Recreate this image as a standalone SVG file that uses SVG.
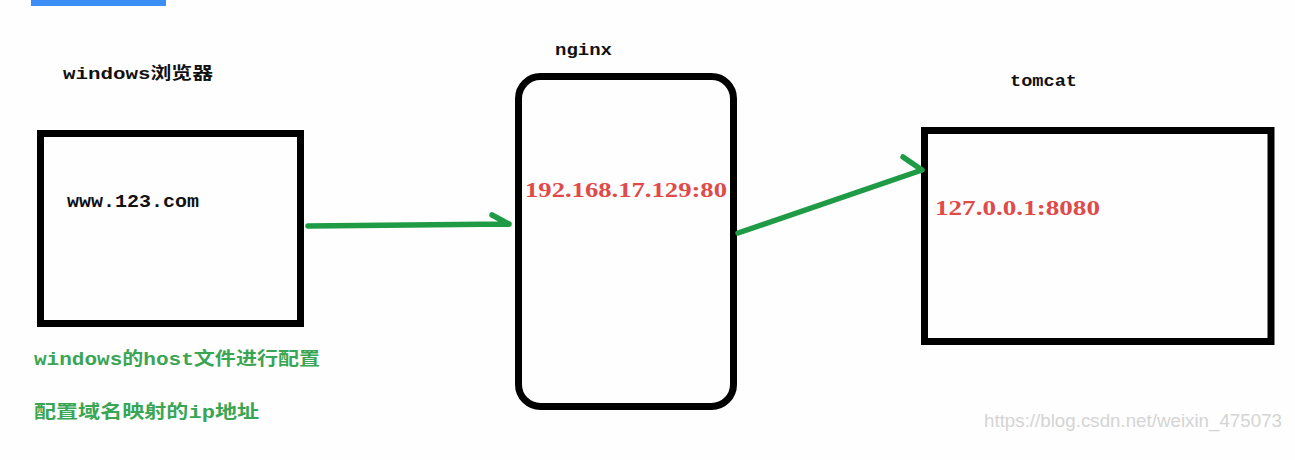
<svg xmlns="http://www.w3.org/2000/svg" width="1295" height="460" viewBox="0 0 1295 460">
<style>
.box{fill:none;stroke:#000;stroke-width:7}
.lbl{font-family:"Liberation Mono","Noto Sans CJK SC",monospace;font-weight:bold;fill:#111}
.ip{font-family:"Liberation Serif","Noto Sans CJK SC",serif;font-weight:bold;fill:#e04a4a}
.note{font-family:"Liberation Mono","Noto Sans CJK SC",monospace;font-weight:bold;fill:#3aa655}
.conn{fill:none;stroke:#1f9a45;stroke-width:5.5;stroke-linecap:round;stroke-linejoin:round}
</style>
<rect width="1295" height="460" fill="#fefefe"/>
<rect x="31" y="0" width="135" height="6" fill="#3a8ef5"/>
<g id="browser">
<text class="lbl" x="63" y="79" font-size="17" textLength="150" lengthAdjust="spacingAndGlyphs">windows浏览器</text>
<rect class="box" x="40.5" y="133.5" width="260" height="190"/>
<text class="lbl" x="67" y="207" font-size="18" textLength="132" lengthAdjust="spacingAndGlyphs">www.123.com</text>
<text class="note" x="34" y="365" font-size="18" textLength="286" lengthAdjust="spacingAndGlyphs">windows的host文件进行配置</text>
<text class="note" x="34" y="418" font-size="18" textLength="225" lengthAdjust="spacingAndGlyphs">配置域名映射的ip地址</text>
</g>
<g id="nginx">
<text class="lbl" x="555" y="55" font-size="17" textLength="57" lengthAdjust="spacingAndGlyphs">nginx</text>
<rect class="box" x="518.5" y="76.5" width="215" height="330" rx="22" ry="22"/>
<text class="ip" x="525" y="197" font-size="20" textLength="202" lengthAdjust="spacingAndGlyphs">192.168.17.129:80</text>
</g>
<g id="tomcat">
<text class="lbl" x="1010" y="86" font-size="17" textLength="67" lengthAdjust="spacingAndGlyphs">tomcat</text>
<rect class="box" x="924.5" y="130.5" width="346.5" height="211"/>
<text class="ip" x="935" y="215" font-size="20" textLength="165" lengthAdjust="spacingAndGlyphs">127.0.0.1:8080</text>
</g>
<g id="connectors">
<path class="conn" d="M308,226 L509,224 M492,215 L509,224"/>
<path class="conn" d="M738,233 L922,170 M903,157 L922,170"/>
</g>
<text x="984" y="427" font-family="Liberation Sans,Arial,sans-serif" font-size="19" fill="#d4d4d4" textLength="298" lengthAdjust="spacingAndGlyphs">https://blog.csdn.net/weixin_475073</text>
</svg>
